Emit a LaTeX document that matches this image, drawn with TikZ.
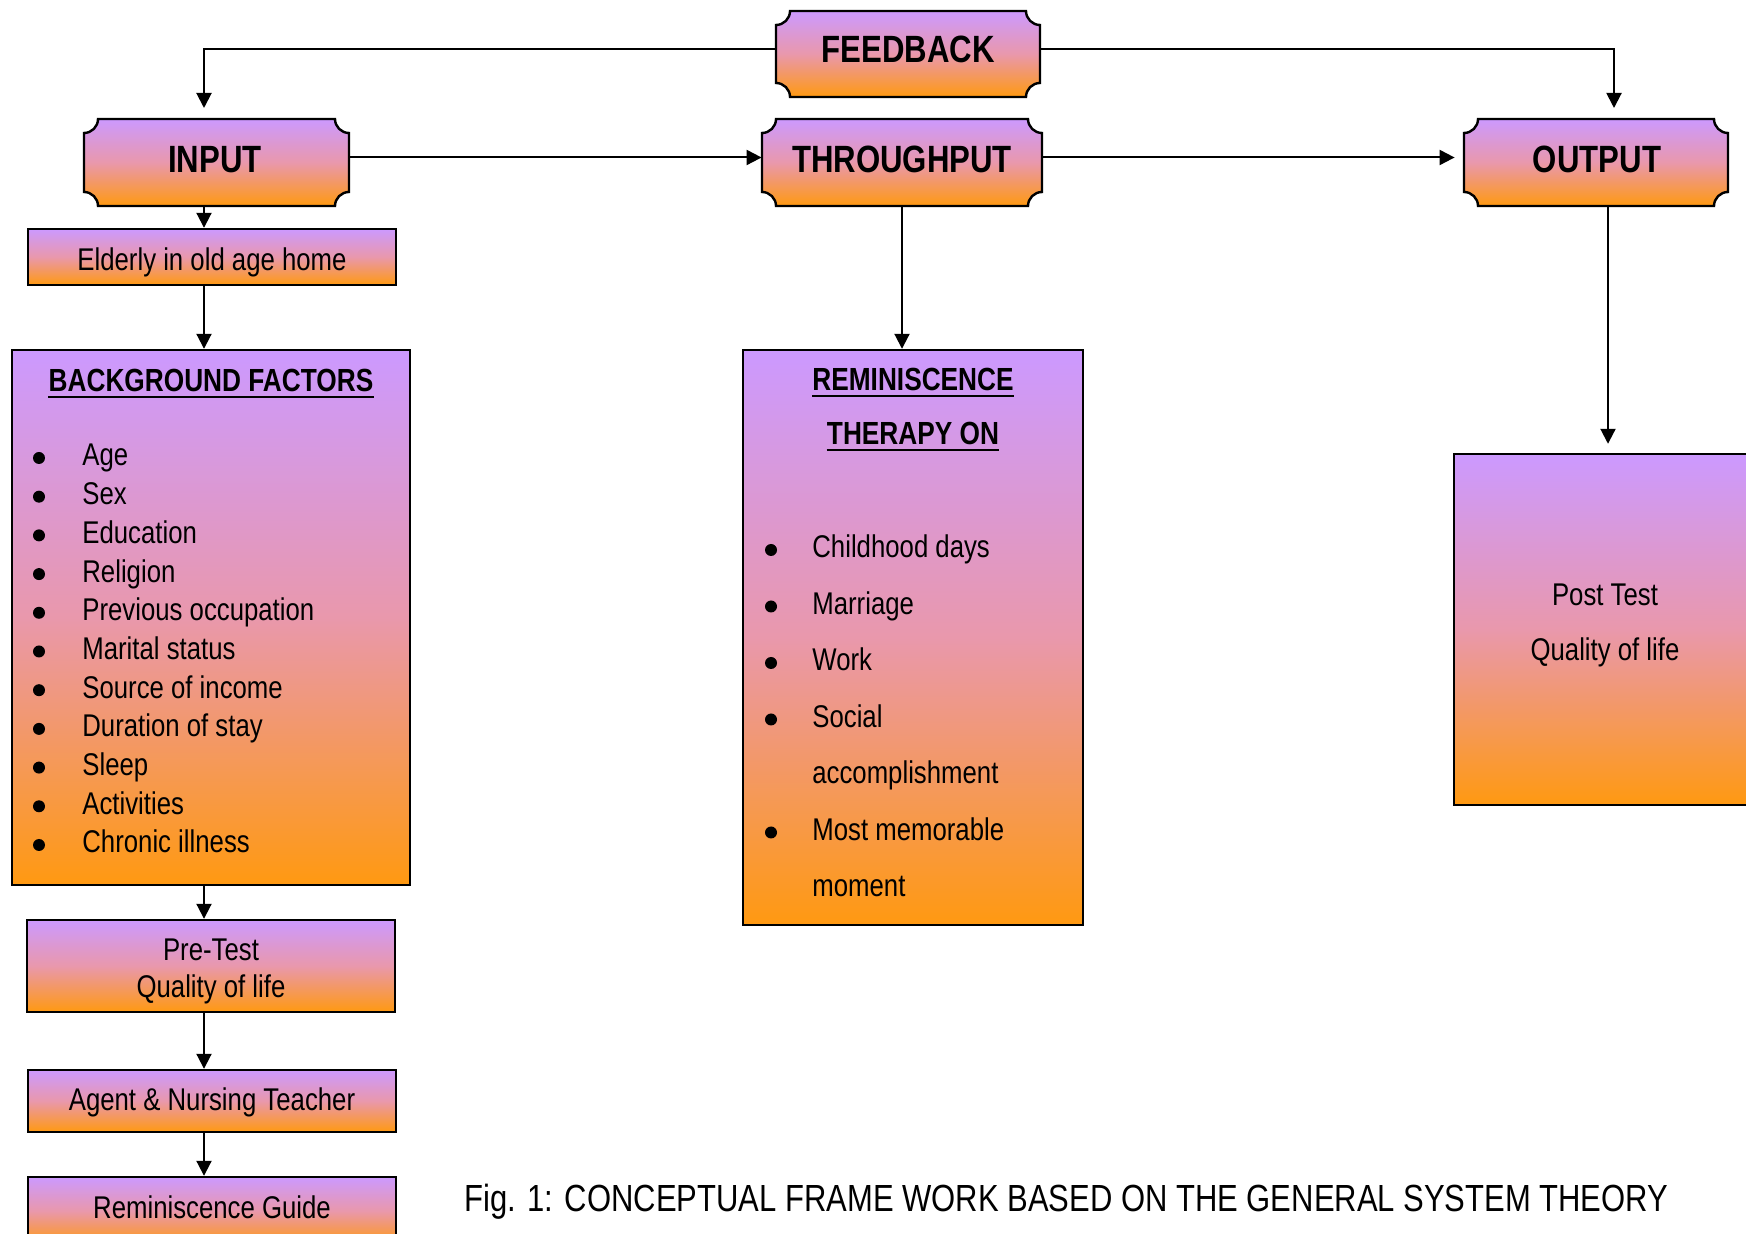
\documentclass[tikz,border=0pt]{standalone}
\usepackage{fontspec}
\setmainfont{Liberation Sans}[FakeStretch=0.82]
\usetikzlibrary{arrows.meta,calc}
\definecolor{lav}{RGB}{204,153,255}
\definecolor{org}{RGB}{255,153,17}
\definecolor{pnk}{RGB}{233,152,172}
\tikzset{
  grad/.style={top color=lav, bottom color=org, middle color=pnk},
  conn/.style={line width=1pt, -{Triangle[length=7.5pt,width=7.5pt]}},
  gbox/.style={draw, line width=1.2pt, grad, inner sep=0pt},
  plaque/.style={draw, line width=1.2pt, grad},
  ptext/.style={inner sep=0pt, font=\fontsize{19}{22}\selectfont\bfseries},
  btext/.style={inner sep=0pt, font=\fontsize{15.7}{18.5}\selectfont},
  htext/.style={inner sep=0pt, font=\fontsize{16}{19}\selectfont\bfseries},
  uline/.style={line width=1pt},
}
% #1 name, #2 x1, #3 y1, #4 x2, #5 y2, #6 text x, #7 baseline, #8 text
\newcommand\plaquebox[8]{%
  \path[plaque] (#2+14,#3) -- (#4-14,#3)
    .. controls (#4-14,#3+7.7) and (#4-7.7,#3+14) .. (#4,#3+14)
    -- (#4,#5-14)
    .. controls (#4-7.7,#5-14) and (#4-14,#5-7.7) .. (#4-14,#5)
    -- (#2+14,#5)
    .. controls (#2+14,#5-7.7) and (#2+7.7,#5-14) .. (#2,#5-14)
    -- (#2,#3+14)
    .. controls (#2+7.7,#3+14) and (#2+14,#3+7.7) .. cycle;
  \node[inner sep=0pt, minimum width={(#4-#2)*0.5pt}, minimum height={(#5-#3)*0.5pt}] (#1) at ({(#2+#4)/2},{(#3+#5)/2}) {};
  \node[ptext, anchor=base] (#1-t) at (#6,#7) {#8};
}
\begin{document}
\begin{tikzpicture}[x=0.5pt,y=-0.5pt]
\useasboundingbox (0,0) rectangle (1746,1234);
\clip (0,0) rectangle (1746,1234);

% plaques
\plaquebox{feedback}{776}{11}{1040}{97}{908}{63}{FEEDBACK}
\plaquebox{input}{84}{119}{349}{206}{215}{173}{INPUT}
\plaquebox{throughput}{762}{119}{1042}{206}{902}{173}{THROUGHPUT}
\plaquebox{output}{1464}{119}{1728}{206}{1597}{173}{OUTPUT}

% left column boxes
\node[gbox, minimum width=184pt, minimum height=28pt] (elderly) at (212,257) {};
\node[btext, anchor=base] (elderly-t) at (212,271) {Elderly in old age home};

\node[gbox, minimum width=199pt, minimum height=267.5pt] (background) at (211,617.5) {};
\node[htext, anchor=base] (bgtitle) at (211,392) {BACKGROUND FACTORS};
\draw[uline] ($(bgtitle.base west)+(0,5)$) -- ($(bgtitle.base east)+(0,5)$);
\foreach \t [count=\i from 0] in {Age,Sex,Education,Religion,Previous occupation,Marital status,Source of income,Duration of stay,Sleep,Activities,Chronic illness} {
  \fill (39,{466+38.7*\i-8}) circle[radius=3pt];
  \node[btext, anchor=base west] (bg\i) at (82,{466+38.7*\i}) {\t};
}

\node[gbox, minimum width=184pt, minimum height=46pt] (pretest) at (211,966) {};
\node[btext, anchor=base] (pretest-a) at (211,960) {Pre-Test};
\node[btext, anchor=base] (pretest-b) at (211,997) {Quality of life};

\node[gbox, minimum width=184pt, minimum height=31pt] (agent) at (212,1101) {};
\node[btext, anchor=base] (agent-t) at (212,1110) {Agent \& Nursing Teacher};

\node[gbox, minimum width=184pt, minimum height=34pt] (guide) at (212,1211) {};
\node[btext, anchor=base] (guide-t) at (212,1218) {Reminiscence Guide};

% middle box
\node[gbox, minimum width=170pt, minimum height=287.5pt] (remin) at (913,637.5) {};
\node[htext, anchor=base] (rtitle1) at (913,391) {REMINISCENCE};
\node[htext, anchor=base] (rtitle2) at (913,445) {THERAPY ON};
\draw[uline] ($(rtitle1.base west)+(0,5)$) -- ($(rtitle1.base east)+(0,5)$);
\draw[uline] ($(rtitle2.base west)+(0,5)$) -- ($(rtitle2.base east)+(0,5)$);
\foreach \t/\b [count=\i from 0] in {Childhood days/1,Marriage/1,Work/1,Social/1,accomplishment/0,Most memorable/1,moment/0} {
  \ifnum\b=1 \fill (771,{558+56.5*\i-8}) circle[radius=3pt];\fi
  \node[btext, anchor=base west] (rm\i) at (812,{558+56.5*\i}) {\t};
}

% right box
\node[gbox, minimum width=173pt, minimum height=175.5pt] (posttest) at (1627,629.5) {};
\node[btext, anchor=base] (posttest-a) at (1605,606) {Post Test};
\node[btext, anchor=base] (posttest-b) at (1605,661) {Quality of life};

% caption
\node[inner sep=0pt, anchor=base west, font=\fontsize{18.9}{22}\selectfont] (caption) at (464,1211) {Fig. 1: CONCEPTUAL FRAME WORK BASED ON THE GENERAL SYSTEM THEORY};

% connectors
\coordinate (colL) at (204,0);
\coordinate (colR) at (1608,0);
\coordinate (fbL) at (204,108);
\coordinate (fbR) at (1614,108);
\draw[conn] ([yshift=2.5pt]feedback.west) -| (fbL);
\draw[conn] ([yshift=2.5pt]feedback.east) -| (fbR);
\draw[conn] ([yshift=2.5pt]input.east) -- ([yshift=2.5pt]throughput.west);
\draw[conn, shorten >=4.5pt] ([yshift=2.5pt]throughput.east) -- ([yshift=2.5pt]output.west);
\draw[conn] (input.south -| colL) -- (elderly.north -| colL);
\draw[conn] (elderly.south -| colL) -- (background.north -| colL);
\draw[conn] (background.south -| colL) -- (pretest.north -| colL);
\draw[conn] (pretest.south -| colL) -- (agent.north -| colL);
\draw[conn] (agent.south -| colL) -- (guide.north -| colL);
\draw[conn] (throughput.south) -- (throughput.south |- remin.north);
\draw[conn, shorten >=4.5pt] (output.south -| colR) -- (posttest.north -| colR);
\end{tikzpicture}
\end{document}
